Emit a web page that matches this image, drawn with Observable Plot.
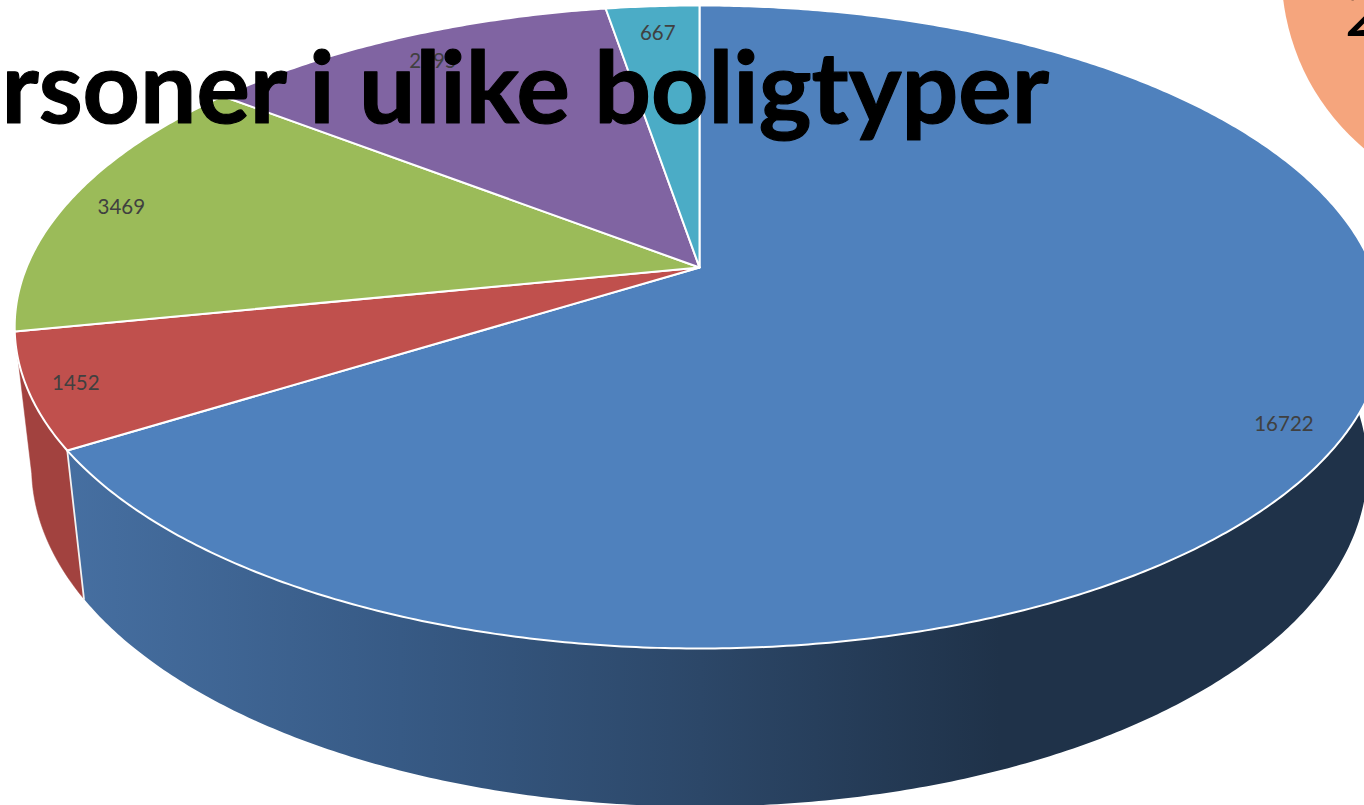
<!DOCTYPE html>
<html><head><meta charset="utf-8">
<style>html,body{margin:0;padding:0;background:#fff;overflow:hidden}svg{display:block}</style>
<script src="https://cdn.jsdelivr.net/npm/d3@7"></script>
<script src="https://cdn.jsdelivr.net/npm/@observablehq/plot@0.6"></script>
</head><body><div id="chart"></div>
<script>
const values = [16722, 1452, 3469, 2995, 667];
const topColors = ["#4f81bd", "#c0504d", "#9bbb59", "#8064a2", "#4bacc6"];
const titleText = "rsoner i ulike boligtyper";
const cutOffText = "2";
const wallStopX = [66, 400, 700, 1000, 1364];
const wallStopColors = ["#466fa1", "#375a85", "#2c4768", "#1f3249", "#1f3249"];
const redWallColor = "#a2423f";
const peachColor = "#f5a57d";
const labelDx = [-6, -10, 2, 10, 2];
const labelDy = [6, 3, 3, 8, 9];

// Perspective view of a tilted disc (fitted to the picture)
const view = {cx: 699, cy: 267, a: 673, b: 310.5, k: 0.185, m: 0.0245, c: 142};
function project(deg, r, z) {
  const t = deg * Math.PI / 180, u = r * Math.sin(t), v = -r * Math.cos(t);
  const w = 1 - view.k * v + view.m * z;
  return {x: view.cx + view.a * u / w, y: view.cy + (view.b * v + view.c * z) / w};
}
const total = d3.sum(values);
let cum = 0;
const slices = values.map((value, i) => {
  const start = cum / total * 360; cum += value;
  return {value, color: topColors[i], start, end: cum / total * 360, i};
});
const arc = (a0, a1, z) => d3.range(0, 1.0001, 1 / Math.max(2, Math.ceil((a1 - a0) * 2)))
  .map(f => project(a0 + (a1 - a0) * f, 1, z));

const marks = [];
// Gradient definition for the blue wall
marks.push(() => {
  const ns = "http://www.w3.org/2000/svg";
  const defs = document.createElementNS(ns, "defs");
  const g = document.createElementNS(ns, "linearGradient");
  g.setAttribute("id", "wallGradient");
  g.setAttribute("gradientUnits", "userSpaceOnUse");
  g.setAttribute("x1", wallStopX[0]); g.setAttribute("x2", wallStopX[wallStopX.length - 1]);
  g.setAttribute("y1", 0); g.setAttribute("y2", 0);
  const span = wallStopX[wallStopX.length - 1] - wallStopX[0];
  wallStopX.forEach((x, i) => {
    const stop = document.createElementNS(ns, "stop");
    stop.setAttribute("offset", (x - wallStopX[0]) / span);
    stop.setAttribute("stop-color", wallStopColors[i]);
    g.append(stop);
  });
  defs.append(g);
  return defs;
});
const blue = slices[0], red = slices[1];
const bluePoly = [...arc(60, blue.end, 0), ...arc(60, blue.end, 1).reverse()];
marks.push(Plot.line([...bluePoly, bluePoly[0]], {x: "x", y: "y", fill: "url(#wallGradient)", stroke: "none", curve: "linear"}));
// Red wall
const redPoly = [...arc(red.start, red.end, 0), ...arc(red.start, red.end, 1).reverse()];
marks.push(Plot.line([...redPoly, redPoly[0]], {x: "x", y: "y", fill: redWallColor, stroke: redWallColor, strokeWidth: 0.5, curve: "linear"}));
// White edge between the two walls
marks.push(Plot.line([project(blue.end, 1, 0), project(blue.end, 1, 1)], {x: "x", y: "y", stroke: "#f2f2f2", strokeWidth: 1.8}));
// Top faces
for (const s of slices) {
  const poly = [project(0, 0, 0), ...arc(s.start, s.end, 0), project(0, 0, 0)];
  marks.push(Plot.line(poly, {x: "x", y: "y", fill: s.color, stroke: "#fff", strokeWidth: 2, strokeLinejoin: "round", curve: "linear"}));
}
// Value labels
marks.push(Plot.text(slices, {
  x: s => project((s.start + s.end) / 2, 0.92, 0).x + labelDx[s.i],
  y: s => project((s.start + s.end) / 2, 0.92, 0).y + labelDy[s.i],
  text: s => String(s.value),
  fontFamily: "Lato", fontSize: 20.5, fill: "#404040"
}));
// Neighbouring shape and title, cut off by the picture's edge
marks.push(Plot.dot([{x: 1512, y: -29}], {x: "x", y: "y", r: 231, fill: peachColor, stroke: "none"}));
marks.push(Plot.text([cutOffText], {x: () => 1344, y: () => 35, text: d => d, fontFamily: "Lato", fontSize: 70, fill: "#000", textAnchor: "start", lineAnchor: "bottom"}));
marks.push(Plot.text([titleText], {x: () => 1, y: () => 122, text: d => d, fontFamily: "Lato", fontWeight: 700, fontSize: 100, fill: "#000", stroke: "#000", strokeWidth: 1.2, textAnchor: "start", lineAnchor: "bottom"}));

const chart = Plot.plot({
  width: 1364, height: 805, margin: 0,
  x: {domain: [0, 1364], range: [0, 1364], axis: null},
  y: {domain: [0, 805], range: [0, 805], axis: null},
  style: {background: "#fff"},
  marks
});
document.getElementById("chart").append(chart);
</script></body></html>
